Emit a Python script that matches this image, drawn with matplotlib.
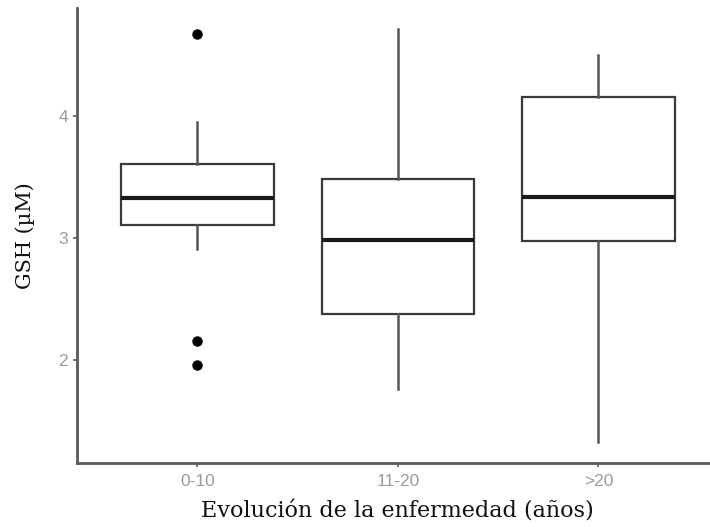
import matplotlib
matplotlib.use("Agg")
import matplotlib.pyplot as plt

# GSH by disease duration group (box statistics)
groups = ["0-10", "11-20", ">20"]
q1 = [3.107, 2.377, 2.973]
median = [3.328, 2.986, 3.339]
q3 = [3.607, 3.484, 4.158]
whisker_low = [2.91, 1.762, 1.325]
whisker_high = [3.953, 4.719, 4.50]
outliers = [[4.672, 2.16, 1.96], [], []]

SPINE = "#5a5a5a"
TICK_TEXT = "#9a9a9a"

fig = plt.figure(figsize=(7.10, 5.27), dpi=100)
ax = fig.add_axes([0.1085, 0.1214, 0.9037, 0.8634])

stats = []
for i, name in enumerate(groups):
    stats.append({
        "label": name,
        "q1": q1[i],
        "med": median[i],
        "q3": q3[i],
        "whislo": whisker_low[i],
        "whishi": whisker_high[i],
        "fliers": outliers[i],
    })

ax.bxp(
    stats,
    positions=[1, 2, 3],
    widths=0.76,
    showcaps=False,
    patch_artist=True,
    boxprops=dict(facecolor="white", edgecolor="#3a3a3a", linewidth=1.6),
    whiskerprops=dict(color="#555555", linewidth=1.8),
    medianprops=dict(color="#1a1a1a", linewidth=3.0),
    flierprops=dict(marker="o", markerfacecolor="black", markeredgecolor="black",
                    markersize=6.5, linestyle="none"),
)

ax.set_xlim(0.4, 3.6)
ax.set_ylim(1.155, 4.889)
ax.set_yticks([2, 3, 4])
ax.set_xticks([1, 2, 3])
ax.set_xticklabels(groups)

for side in ["top", "right"]:
    ax.spines[side].set_visible(False)
for side in ["left", "bottom"]:
    ax.spines[side].set_color(SPINE)
    ax.spines[side].set_linewidth(2.0)

ax.tick_params(axis="both", colors=SPINE, length=3, width=1.2,
               labelcolor=TICK_TEXT, labelsize=12.5)
ax.tick_params(axis="x", pad=5)
for lbl in ax.get_xticklabels() + ax.get_yticklabels():
    lbl.set_family("Liberation Sans")

ax.set_xlabel("Evolución de la enfermedad (años)", family="DejaVu Serif",
              fontsize=16, color="#111111", labelpad=8)
ax.set_ylabel("GSH (µM)", family="DejaVu Serif", fontsize=15,
              color="#111111", labelpad=17)

fig.savefig("out.png", dpi=100)
